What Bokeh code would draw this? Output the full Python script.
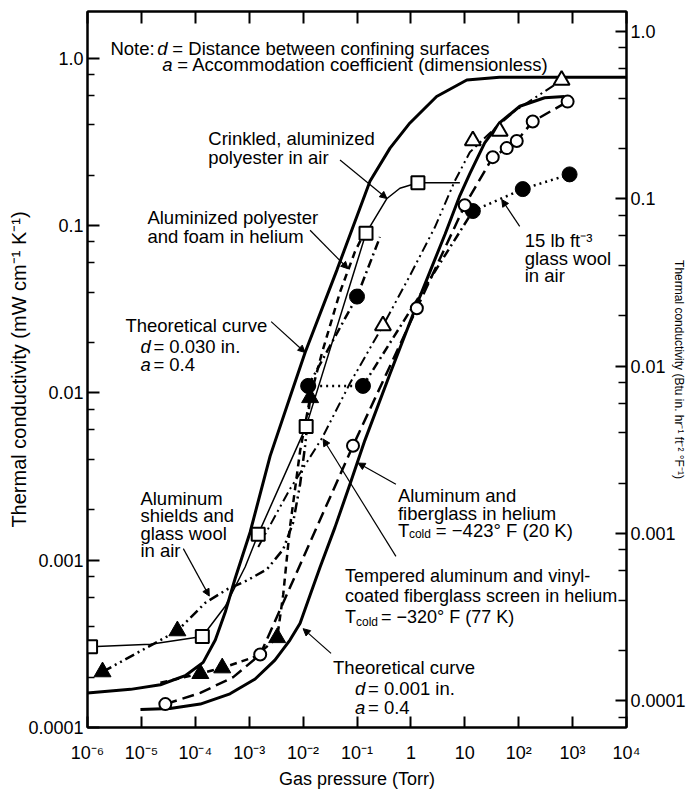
import math
from bokeh.plotting import figure
from bokeh.models import (LogAxis, FixedTicker, Range1d, LogScale, Label, Arrow,
                          NormalHead, CustomJSTickFormatter)
from bokeh.embed import file_html
from bokeh.resources import INLINE

# ---------------- data: gas pressure (Torr) and thermal conductivity (mW cm^-1 K^-1) ----------------
# Theoretical curve, d = 0.030 in., a = 0.4
theory_030_p = [1e-6, 6.3e-6, 2.25e-5, 6.5e-5, 1.4e-4, 2.35e-4, 3.6e-4, 5.5e-4, 1.04e-3, 2.45e-3,
                5.7e-3, 0.0109, 0.0427, 0.174, 0.41, 0.96, 3.0, 10.9, 44, 1e4]
theory_030_k = [1.61e-4, 1.69e-4, 1.80e-4, 2.04e-4, 2.45e-4, 3.33e-4, 4.9e-4, 7.8e-4, 1.47e-3, 4.2e-3,
                9.4e-3, 0.0174, 0.0545, 0.184, 0.29, 0.41, 0.59, 0.74, 0.77, 0.77]

# Theoretical curve, d = 0.001 in., a = 0.4
theory_001_p = [9.6e-6, 3.4e-5, 1.24e-4, 4.4e-4, 1.29e-3, 3.0e-3, 5.7e-3, 8.8e-3, 0.0135, 0.0207,
                0.039, 0.074, 0.14, 0.41, 1.47, 4.3, 8.1, 12.4, 23.4, 44, 105, 303, 710]
theory_001_k = [1.28e-4, 1.30e-4, 1.38e-4, 1.59e-4, 1.95e-4, 2.53e-4, 3.33e-4, 4.2e-4, 6.2e-4, 9.1e-4,
                1.57e-3, 2.84e-3, 5.2e-3, 0.013, 0.0376, 0.0887, 0.151, 0.204, 0.312, 0.41, 0.516, 0.58, 0.59]

# Crinkled, aluminized polyester in air (open squares)
crinkled_p = [1.14e-6, 1.35e-4, 1.47e-3, 0.0114, 0.147, 1.35]
crinkled_k = [3.04e-4, 3.5e-4, 1.43e-3, 6.3e-3, 0.090, 0.18]
crinkled_line_p = [1.14e-6, 1.47e-5, 1.35e-4, 3.6e-4, 8.4e-4, 1.47e-3, 0.0114, 0.147, 0.36, 0.625, 1.35, 8.1]
crinkled_line_k = [3.04e-4, 3.14e-4, 3.5e-4, 5.3e-4, 9.1e-4, 1.43e-3, 6.3e-3, 0.090, 0.145, 0.167, 0.18, 0.18]

# Aluminized polyester and foam in helium (filled triangles, dashed)
foam_p = [1.24e-4, 3.16e-4, 3.3e-3, 0.0135]
foam_k = [2.1e-4, 2.27e-4, 3.44e-4, 9.35e-3]
foam_line_p = [2.25e-5, 1.24e-4, 3.16e-4, 1.29e-3, 3.3e-3, 4.27e-3, 5.7e-3, 8.8e-3, 0.0135, 0.0225, 0.0484, 0.092, 0.12]
foam_line_k = [1.85e-4, 2.1e-4, 2.27e-4, 2.65e-4, 3.44e-4, 6.2e-4, 1.57e-3, 4.5e-3, 9.35e-3, 0.0174, 0.040, 0.070, 0.083]

# Aluminum shields and glass wool in air (filled triangles, dash-dot-dot)
shields_p = [1.9e-6, 4.65e-5]
shields_k = [2.15e-4, 3.78e-4]
shields_line_p = [1.9e-6, 4.65e-5, 1.53e-4, 3.92e-4, 9.18e-4, 2.15e-3, 4.27e-3, 6.53e-3, 8.8e-3, 0.0109, 0.0135]
shields_line_k = [2.15e-4, 3.78e-4, 5.56e-4, 6.7e-4, 7.57e-4, 8.84e-4, 1.16e-3, 1.68e-3, 2.84e-3, 4.83e-3, 9.35e-3]

# 15 lb ft^-3 glass wool in air (filled circles, dotted)
woolair_p = [0.0124, 0.129, 14.1, 119, 879]
woolair_k = [0.011, 0.011, 0.122, 0.165, 0.202]

# Filled-circle dash-dot branch
branch_p = [0.0124, 0.1, 0.267]
branch_k = [0.011, 0.0376, 0.0853]

# Aluminum and fiberglass in helium, Tcold = -423 F (open circles, long dashes)
fiberglass_p = [2.78e-5, 1.6e-3, 0.0843, 1.29, 10.0, 33, 60, 92, 182, 808]
fiberglass_k = [1.38e-4, 2.73e-4, 4.83e-3, 0.032, 0.132, 0.256, 0.29, 0.32, 0.418, 0.55]
fiberglass_line_p = [2.78e-5, 1.24e-4, 5.06e-4, 1.6e-3, 0.0843, 1.29, 10.0, 33, 60, 92, 182, 808]
fiberglass_line_k = [1.38e-4, 1.61e-4, 2.0e-4, 2.73e-4, 4.83e-3, 0.032, 0.132, 0.256, 0.29, 0.32, 0.418, 0.55]

# Tempered aluminum and vinyl-coated fiberglass screen in helium, Tcold = -320 F (open triangles)
screen_p = [0.303, 14.1, 44.5, 625]
screen_k = [0.0252, 0.321, 0.366, 0.738]
screen_line_p = [1.47e-3, 5.7e-3, 0.0225, 0.074, 0.303, 0.96, 2.78, 6.5, 12.4, 29, 84, 245, 625]
screen_line_k = [1.2e-3, 2.66e-3, 5.37e-3, 0.0114, 0.0252, 0.0502, 0.0975, 0.184, 0.274, 0.356, 0.483, 0.605, 0.738]

# axes
x_tick_values = [1e-6, 1e-5, 1e-4, 1e-3, 1e-2, 1e-1, 1.0, 10.0, 100.0, 1e3, 1e4]
x_tick_labels = ["10⁻⁶", "10⁻⁵", "10⁻⁴", "10⁻³", "10⁻²", "10⁻¹", "1", "10", "10²", "10³", "10⁴"]
y_tick_values = [1e-4, 1e-3, 1e-2, 1e-1, 1.0]
y_tick_labels = ["0.0001", "0.001", "0.01", "0.1", "1.0"]
BTU_PER_MW = 0.6933   # 1 mW cm^-1 K^-1 = 0.6933 Btu in hr^-1 ft^-2 F^-1

FONT = "Liberation Sans"
ANN = "18.5px"
ANN_S = "18px"

Y_LO, Y_HI = 1e-4, 1.9
p = figure(width=688, height=791, x_axis_type="log", y_axis_type="log",
           x_range=(1e-6, 1e4), y_range=(Y_LO, Y_HI),
           output_backend="svg", toolbar_location=None,
           min_border_left=87, min_border_right=61, min_border_top=11, min_border_bottom=63,
           background_fill_color="white", border_fill_color="white")
p.xgrid.visible = False
p.ygrid.visible = False
p.outline_line_color = "black"
p.outline_line_width = 2


def fmt(labels, emin):
    return CustomJSTickFormatter(args=dict(labels=labels, emin=emin), code="""
        const i = Math.round(Math.log10(tick)) - emin;
        return (i >= 0 && i < labels.length) ? labels[i] : "";
    """)


def minors(lo, hi):
    out = []
    for e in range(-6, 2):
        for m in (2, 4, 6, 8):
            v = m * 10.0 ** e
            if lo < v < hi:
                out.append(v)
    return out


def style(ax, tick_in, minor_in):
    ax.axis_line_width = 2
    ax.axis_line_color = "black"
    ax.major_tick_in = tick_in
    ax.major_tick_out = 0
    ax.minor_tick_in = minor_in
    ax.minor_tick_out = 0
    ax.major_tick_line_width = 2
    ax.minor_tick_line_width = 1.5
    ax.major_label_text_font = FONT
    ax.major_label_text_font_size = "18px"
    ax.major_label_text_color = "black"
    ax.axis_label_text_font = FONT
    ax.axis_label_text_font_size = "18px"
    ax.axis_label_text_font_style = "normal"
    ax.axis_label_text_color = "black"


xb = p.xaxis[0]
xb.ticker = FixedTicker(ticks=x_tick_values, minor_ticks=[])
xb.formatter = fmt(x_tick_labels, -6)
style(xb, 11, 0)
xb.major_label_standoff = 15
xb.axis_label = "Gas pressure (Torr)"
xb.axis_label_standoff = 3

xt = LogAxis(ticker=FixedTicker(ticks=x_tick_values, minor_ticks=[]),
             formatter=fmt([""] * 11, -6))
style(xt, 12, 0)
xt.major_label_text_font_size = "0px"
xt.major_label_standoff = 0
p.add_layout(xt, "above")

yl = p.yaxis[0]
yl.ticker = FixedTicker(ticks=y_tick_values, minor_ticks=minors(Y_LO, Y_HI))
yl.formatter = fmt(y_tick_labels, -4)
style(yl, 12, 7)
yl.major_label_standoff = 4
yl.axis_label = "Thermal conductivity (mW cm⁻¹ K⁻¹)"
yl.axis_label_text_font_size = "20px"
yl.axis_label_standoff = -5

p.extra_y_ranges = {"btu": Range1d(Y_LO * BTU_PER_MW, Y_HI * BTU_PER_MW)}
p.extra_y_scales = {"btu": LogScale()}
yr = LogAxis(y_range_name="btu",
             ticker=FixedTicker(ticks=y_tick_values, minor_ticks=minors(Y_LO * BTU_PER_MW, Y_HI * BTU_PER_MW)),
             formatter=fmt(y_tick_labels, -4))
style(yr, 11, 8)
yr.major_label_standoff = 4
yr.axis_label = "Thermal conductivity (Btu in. hr⁻¹ ft⁻² °F⁻¹)"
yr.axis_label_text_font_size = "12px"
yr.axis_label_standoff = -17
p.add_layout(yr, "right")

# ---------------- curves ----------------
p.line(theory_030_p, theory_030_k, line_width=3, color="black")
p.line(theory_001_p, theory_001_k, line_width=3, color="black")
p.line(crinkled_line_p, crinkled_line_k, line_width=1.5, color="black")
p.line(foam_line_p, foam_line_k, line_width=2.5, color="black", line_dash="7 5")
p.line(shields_line_p, shields_line_k, line_width=2.5, color="black", line_dash="10 4 2 4 2 4")
p.line(woolair_p[0:2], woolair_k[0:2], line_width=2.5, color="black", line_dash="2 4")
p.line(woolair_p[1:3], woolair_k[1:3], line_width=2.5, color="black", line_dash="9 4 2 4")
p.line(woolair_p[2:], woolair_k[2:], line_width=2.5, color="black", line_dash="2 4")
p.line(branch_p, branch_k, line_width=2.5, color="black", line_dash="9 4 2 4")
p.line(fiberglass_line_p, fiberglass_line_k, line_width=2.5, color="black", line_dash="12 6")
p.line(screen_line_p, screen_line_k, line_width=2, color="black", line_dash="10 4 2 4 2 4")

# ---------------- markers ----------------
p.scatter(crinkled_p, crinkled_k, marker="square", size=13, fill_color="white", line_color="black", line_width=2)
p.scatter(foam_p, foam_k, marker="triangle", size=17, fill_color="black", line_color="black")
p.scatter(shields_p, shields_k, marker="triangle", size=17, fill_color="black", line_color="black")
p.scatter(woolair_p, woolair_k, marker="circle", size=15, fill_color="black", line_color="black")
p.scatter(branch_p[1:2], branch_k[1:2], marker="circle", size=15, fill_color="black", line_color="black")
p.scatter(fiberglass_p, fiberglass_k, marker="circle", size=12, fill_color="white", line_color="black", line_width=2)
p.scatter(screen_p, screen_k, marker="triangle", size=16, fill_color="white", line_color="black", line_width=2)


# ---------------- annotations ----------------
def ref(px, py):
    """Position read on the original figure -> data coordinates (annotation placement)."""
    lx = -6 + (px - 87) / 54
    ly = -3 + (579 - py) / 174 if py <= 579 else -3 - (py - 579) / 149
    return 10 ** lx, 10 ** ly


texts = [
    ("Note:", 110, 47, "normal", ANN),
    ("d", 157, 47, "italic", ANN),
    ("= Distance between confining surfaces", 172, 47, "normal", ANN),
    ("a", 162, 64, "italic", ANN),
    ("= Accommodation coefficient (dimensionless)", 177, 64, "normal", ANN),
    ("Crinkled, aluminized", 208, 141, "normal", ANN),
    ("polyester in air", 208, 160, "normal", ANN),
    ("Aluminized polyester", 147, 223, "normal", ANN),
    ("and foam in helium", 147, 242, "normal", ANN),
    ("Theoretical curve", 125, 335, "normal", ANN),
    ("d", 140, 357, "italic", ANN),
    ("= 0.030 in.", 153, 357, "normal", ANN),
    ("a", 140, 376, "italic", ANN),
    ("= 0.4", 153, 376, "normal", ANN),
    ("Aluminum", 140, 515, "normal", ANN),
    ("shields and", 140, 533, "normal", ANN),
    ("glass wool", 140, 551, "normal", ANN),
    ("in air", 140, 569, "normal", ANN),
    ("15 lb ft⁻³", 525, 247, "normal", ANN),
    ("glass wool", 525, 265, "normal", ANN),
    ("in air", 525, 283, "normal", ANN),
    ("Aluminum and", 398, 512, "normal", ANN),
    ("fiberglass in helium", 398, 530, "normal", ANN),
    ("T", 398, 548, "normal", ANN),
    ("cold", 409, 552, "normal", "12px"),
    ("= −423° F (20 K)", 436, 548, "normal", ANN),
    ("Tempered aluminum and vinyl-", 345, 593, "normal", ANN_S),
    ("coated fiberglass screen in helium", 345, 611, "normal", ANN_S),
    ("T", 345, 630, "normal", ANN_S),
    ("cold", 356, 634, "normal", "12px"),
    ("= −320° F (77 K)", 381, 630, "normal", ANN_S),
    ("Theoretical curve", 333, 675, "normal", ANN),
    ("d", 355, 693, "italic", ANN),
    ("= 0.001 in.", 368, 693, "normal", ANN),
    ("a", 355, 710, "italic", ANN),
    ("= 0.4", 368, 710, "normal", ANN),
]
for txt, px, py, fstyle, fsize in texts:
    x, y = ref(px, py)
    p.add_layout(Label(x=x, y=y, text=txt, text_font=FONT, text_font_size=fsize,
                       text_font_style=fstyle, text_color="black",
                       text_align="left", text_baseline="alphabetic"))

arrows = [
    ((340, 163), (387, 203)),
    ((310, 236), (348, 276)),
    ((271, 331), (305, 363)),
    ((183, 567), (209, 611)),
    ((520, 232), (502, 204)),
    ((396, 500), (358, 478)),
    ((396, 575), (323, 453)),
    ((331, 662), (303, 640)),
]
for (tx, ty), (hx, hy) in arrows:
    x0, y0 = ref(tx, ty)
    x1, y1 = ref(hx, hy)
    p.add_layout(Arrow(end=NormalHead(size=7, line_width=1, fill_color="black", line_color="black"),
                       x_start=x0, y_start=y0, x_end=x1, y_end=y1,
                       line_width=1.2, line_color="black"))

open("out.html", "w").write(file_html(p, INLINE))
